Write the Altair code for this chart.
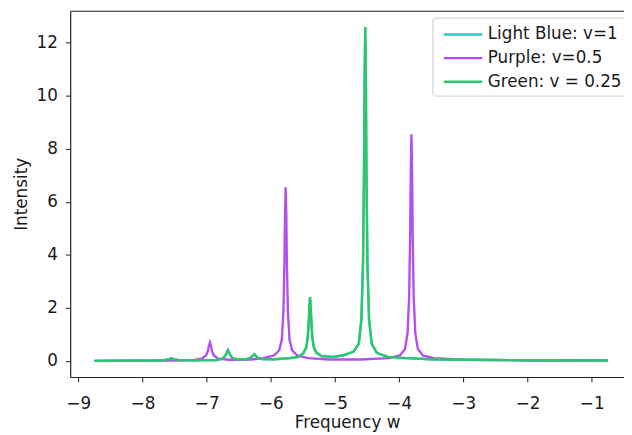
import altair as alt
import pandas as pd

series_names = ["Light Blue: v=1", "Purple: v=0.5", "Green: v = 0.25"]
series_colors = ["#33c6c6", "#b24ff0", "#2cc76c"]

purple_x = [-8.75, -7.5, -7.2, -7.08, -7.01, -6.98, -6.965, -6.95, -6.935, -6.92, -6.89, -6.82,
            -6.65, -6.3, -6.12, -5.95, -5.87, -5.83, -5.805, -5.79, -5.78, -5.77, -5.76, -5.75,
            -5.735, -5.71, -5.67, -5.59, -5.42, -5.1, -4.6, -4.16, -3.99, -3.91, -3.87, -3.845,
            -3.83, -3.82, -3.81, -3.80, -3.79, -3.775, -3.75, -3.71, -3.63, -3.46, -3.0, -2.0, -0.75]
purple_y = [0.0, 0.01, 0.03, 0.08, 0.2, 0.38, 0.58, 0.7, 0.58, 0.38, 0.2, 0.08,
            0.04, 0.05, 0.1, 0.2, 0.4, 0.8, 1.85, 3.59, 5.43, 6.55, 5.43, 3.59,
            1.85, 0.8, 0.4, 0.2, 0.1, 0.05, 0.05, 0.1, 0.2, 0.45, 1.05, 2.45,
            4.7, 7.1, 8.55, 7.1, 4.7, 2.45, 1.05, 0.45, 0.2, 0.1, 0.04, 0.02, 0.01]

green_x = [-8.75, -7.75, -7.65, -7.58, -7.55, -7.52, -7.45, -7.2, -6.85, -6.75, -6.71, -6.69,
           -6.67, -6.65, -6.63, -6.59, -6.5, -6.38, -6.31, -6.28, -6.26, -6.24, -6.21, -6.14,
           -5.95, -5.7, -5.57, -5.49, -5.45, -5.425, -5.41, -5.40, -5.39, -5.38, -5.37, -5.355,
           -5.33, -5.29, -5.21, -5.05, -4.88, -4.71, -4.63, -4.59, -4.565, -4.55, -4.54, -4.53,
           -4.52, -4.51, -4.495, -4.47, -4.43, -4.35, -4.18, -3.9, -3.5, -3.0, -2.0, -0.75]
green_y = [0.0, 0.01, 0.03, 0.06, 0.1, 0.06, 0.03, 0.02, 0.03, 0.08, 0.2, 0.3,
           0.4, 0.3, 0.2, 0.09, 0.05, 0.06, 0.12, 0.2, 0.25, 0.2, 0.12, 0.07,
           0.06, 0.1, 0.15, 0.3, 0.5, 0.9, 1.5, 2.0, 2.4, 2.0, 1.5, 0.9,
           0.5, 0.3, 0.18, 0.15, 0.2, 0.35, 0.65, 1.55, 3.6, 6.9, 10.45, 12.6,
           10.45, 6.9, 3.6, 1.55, 0.65, 0.3, 0.15, 0.1, 0.06, 0.04, 0.02, 0.01]

# the light-blue curve is not visible in the picture: it lies under the green one
light_x = list(green_x)
light_y = list(green_y)

x_ticks = [-9, -8, -7, -6, -5, -4, -3, -2, -1]
y_ticks = [0, 2, 4, 6, 8, 10, 12]

rows = []
for name, xs, ys in [(series_names[0], light_x, light_y),
                     (series_names[1], purple_x, purple_y),
                     (series_names[2], green_x, green_y)]:
    for i, (a, b) in enumerate(zip(xs, ys)):
        rows.append({"series": name, "w": a, "intensity": b, "idx": i})
df = pd.DataFrame(rows)

FONT = "DejaVu Sans"
TXT = "#1a1a1a"
FS = 17
xscale = alt.Scale(domain=[-9.128, -0.497], nice=False, zero=False)
yscale = alt.Scale(domain=[-0.61, 13.21], nice=False, zero=False)

color = alt.Color(
    "series:N",
    scale=alt.Scale(domain=series_names, range=series_colors),
    legend=alt.Legend(
        title=None, orient="none", legendX=367, legendY=7,
        symbolType="M-2,0H2", symbolSize=380, symbolStrokeWidth=2.5,
        symbolOffset=14,
        labelFont=FONT, labelFontSize=FS, labelColor=TXT, labelOffset=14,
        padding=6, rowPadding=5, strokeColor="#cccccc", cornerRadius=3,
        fillColor="white", offset=0,
    ),
)

xaxis = alt.Axis(values=x_ticks, title="Frequency w", grid=False, tickSize=5,
                 labelPadding=14, titlePadding=3)
yaxis = alt.Axis(values=y_ticks, title="Intensity", grid=False, tickSize=5,
                 labelPadding=8, titlePadding=6)

def series_layer(name, with_axes):
    return alt.Chart(df).transform_filter(alt.datum.series == name).mark_line(
        strokeWidth=2.4, clip=True
    ).encode(
        x=alt.X("w:Q", scale=xscale, axis=xaxis if with_axes else None),
        y=alt.Y("intensity:Q", scale=yscale, axis=yaxis if with_axes else None),
        color=color,
        order="idx:Q",
    )

top_spine = alt.Chart(df).mark_line(opacity=0).encode(
    x=alt.X("w:Q", scale=xscale,
            axis=alt.Axis(orient="top", values=[], labels=False, ticks=False,
                          title=None, grid=False)),
    y=alt.Y("intensity:Q", scale=yscale, axis=None),
)

chart = alt.layer(
    series_layer(series_names[0], True),
    series_layer(series_names[1], False),
    series_layer(series_names[2], False),
    top_spine,
).resolve_axis(x="independent", y="independent").properties(
    width=561, height=371,
    autosize=alt.AutoSizeParams(type="none"),
    padding={"left": 63, "top": 0, "right": 0, "bottom": 56},
).configure_view(stroke=None).configure_axis(
    domainColor="#222222", tickColor="#222222", domainWidth=1.2,
    labelFont=FONT, labelFontSize=FS, labelColor=TXT,
    titleFont=FONT, titleFontSize=FS, titleColor=TXT, titleFontWeight="normal",
)

chart.save("out.html", embed_options={"renderer": "svg", "actions": False})
